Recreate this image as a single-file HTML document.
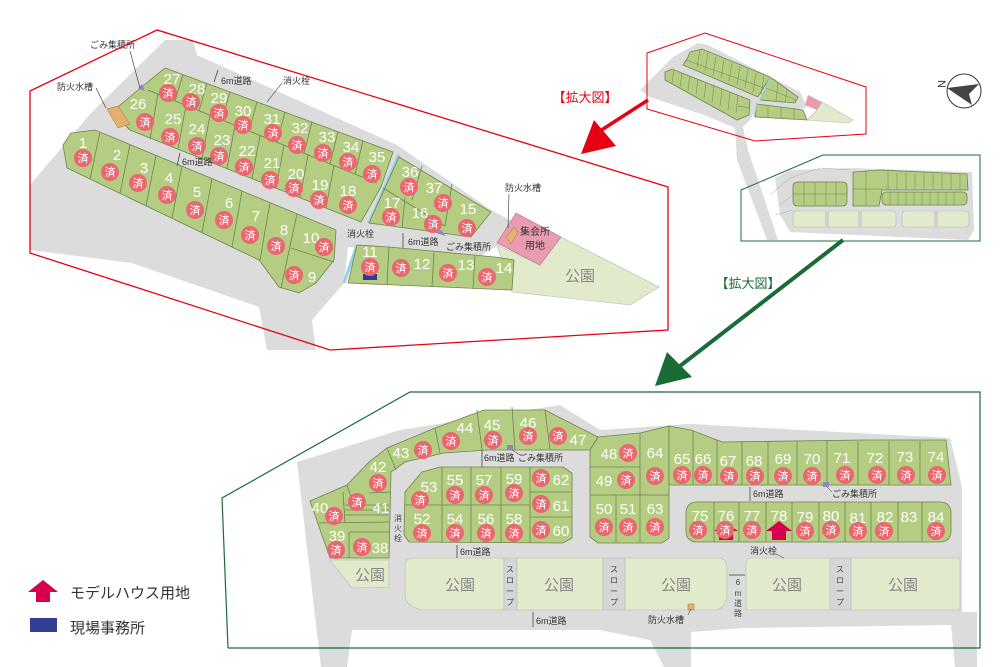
<!DOCTYPE html>
<html><head><meta charset="utf-8"><style>
html,body{margin:0;padding:0;background:#fff;}
svg{display:block;font-family:"Liberation Sans","Noto Sans CJK JP",sans-serif;}
.lot{fill:#b5cd82;stroke:#6e8350;stroke-width:0.8;}
.dv{stroke:#6e8350;stroke-width:0.8;fill:none;}
.dv2{stroke:#6e8350;stroke-width:0.5;fill:none;}
.park{fill:#e1eacb;stroke:#b9b9b9;stroke-width:0.6;}
.rd{fill:#dcdcdc;}
.n{fill:#fff;font-size:15px;text-anchor:middle;}
.c{fill:#ea6770;}
.lb{font-size:9px;fill:#333;}
.pk{font-size:15px;fill:#888;text-anchor:middle;}
</style></head><body>
<svg width="1000" height="667" viewBox="0 0 1000 667" xmlns="http://www.w3.org/2000/svg">
<defs>
<g id="z"><circle class="c" r="9"/><text y="4" fill="#fff" font-size="11" text-anchor="middle">済</text></g>
</defs>

<!-- ===== TOP DETAIL MAP ===== -->
<polygon class="rd" points="30,185 91,113 165,40 193,40 197,55 397,145 491,210 516,223 495,247 479,257 348,247 344,283 312,320 316,350 267,350 259,307 132,263 30,250"/>
<polygon class="park" points="497,245 540,265 561,237 659,287 630,305 512,292"/>
<polygon fill="#e99cb0" stroke="#b07080" stroke-width="0.6" points="516,213 561,237 540,265 497,243"/>
<text x="535" y="235" font-size="10" fill="#333" text-anchor="middle">集会所</text>
<text x="535" y="249" font-size="10" fill="#333" text-anchor="middle">用地</text>
<text class="pk" x="580" y="281">公園</text>
<line x1="399" y1="155" x2="369" y2="223" stroke="#8fd3e6" stroke-width="3"/>
<line x1="357" y1="245" x2="344" y2="283" stroke="#8fd3e6" stroke-width="3"/>
<polygon class="lot" points="165,68 393,152 381,187 361,222 130,130 112,112 132,95"/>
<polyline class="dv" points="148,90 377,183"/>
<path class="dv" d="M183,74.6L175,101M207,83.5L199,110.7M230,92L222,120M257,101.9L249,131M285,112L277,142.4M312,122L304,153.3M338,131.7L330,163.9M363,140.9L355,174M158,94L150,138.8M186,105.4L178,149.1M210,115.2L202,158.7M235,125.3L227,168.6M260,135.5L252,178.6M284,145.2L276,188.1M308,155L300,197.7M334,165.5L326,207.7"/>
<polygon class="lot" points="71,133 95,130 336,230 334,260 316,283 299,293 279,287 259,260 67,168 63,145"/>
<path class="dv" d="M100,132L90,179M130,144.5L120,193.4M156,155.3L146,205.8M182,166L172,218.3M212,178.6L202,232.7M242,191L232,247M270,202.6L260,260M297,213.8L281,288M291,248L334,262"/>
<polygon class="lot" points="399,157 491,212 471,237 442,233 369,223"/>
<path class="dv" d="M383,188L445,226M422,166L412,200M452,184L445,226M405,197L402,228"/>
<polygon class="lot" points="357,245 389,247 495,257 514,260 512,290 348,283"/>
<path class="dv" d="M389,247L387,285M434,253L432,287M475,256L473,289"/>
<polygon fill="#e6b06c" stroke="#a07040" stroke-width="0.5" points="107,109 118,106 130,124 118,128"/>
<polygon fill="#e6b06c" stroke="#a07040" stroke-width="0.5" points="506,237 514,227 518,232 511,244"/>
<polygon fill="#8f86c9" points="138,89 142,84 145,91"/>
<polygon fill="#8f86c9" points="436,233 441,230 446,236"/>
<rect x="363" y="274" width="14" height="6" fill="#2e3d93"/>
<g>
<text class="n" x="172" y="84">27</text><text class="n" x="197" y="94">28</text><text class="n" x="219" y="103">29</text><text class="n" x="243" y="116">30</text><text class="n" x="272" y="124">31</text><text class="n" x="300" y="133">32</text><text class="n" x="327" y="142">33</text><text class="n" x="351" y="152">34</text><text class="n" x="377" y="162">35</text>
<text class="n" x="138" y="109">26</text><text class="n" x="173" y="124">25</text><text class="n" x="197" y="134">24</text><text class="n" x="222" y="145">23</text><text class="n" x="247" y="156">22</text><text class="n" x="272" y="168">21</text><text class="n" x="296" y="179">20</text><text class="n" x="320" y="190">19</text><text class="n" x="348" y="196">18</text>
<text class="n" x="83" y="148">1</text><text class="n" x="117" y="160">2</text><text class="n" x="144" y="173">3</text><text class="n" x="169" y="183">4</text><text class="n" x="197" y="197">5</text><text class="n" x="229" y="208">6</text><text class="n" x="256" y="221">7</text><text class="n" x="284" y="235">8</text><text class="n" x="311" y="243">10</text><text class="n" x="312" y="282">9</text>
<text class="n" x="410" y="177">36</text><text class="n" x="434" y="193">37</text><text class="n" x="468" y="214">15</text><text class="n" x="392" y="208">17</text><text class="n" x="420" y="218">16</text>
<text class="n" x="370" y="257">11</text><text class="n" x="422" y="269">12</text><text class="n" x="466" y="270">13</text><text class="n" x="504" y="273">14</text>
</g>
<g>
<use href="#z" x="168" y="93"/><use href="#z" x="191" y="102"/><use href="#z" x="219" y="113"/><use href="#z" x="243" y="125"/><use href="#z" x="273" y="133"/><use href="#z" x="297" y="145"/><use href="#z" x="323" y="153"/><use href="#z" x="348" y="162"/><use href="#z" x="372" y="174"/>
<use href="#z" x="145" y="122"/><use href="#z" x="170" y="137"/><use href="#z" x="197" y="146"/><use href="#z" x="219" y="156"/><use href="#z" x="244" y="167"/><use href="#z" x="270" y="180"/><use href="#z" x="294" y="188"/><use href="#z" x="319" y="200"/><use href="#z" x="348" y="205"/>
<use href="#z" x="83" y="158"/><use href="#z" x="110" y="172"/><use href="#z" x="138" y="183"/><use href="#z" x="167" y="195"/><use href="#z" x="195" y="210"/><use href="#z" x="224" y="220"/><use href="#z" x="250" y="235"/><use href="#z" x="276" y="246"/><use href="#z" x="324" y="247"/><use href="#z" x="294" y="275"/>
<use href="#z" x="409" y="187"/><use href="#z" x="443" y="203"/><use href="#z" x="467" y="228"/><use href="#z" x="391" y="217"/><use href="#z" x="433" y="224"/>
<use href="#z" x="370" y="267"/><use href="#z" x="401" y="268"/><use href="#z" x="448" y="273"/><use href="#z" x="487" y="277"/>
</g>
<text class="lb" x="90" y="48">ごみ集積所</text><line x1="130" y1="51" x2="140" y2="88" stroke="#333" stroke-width="0.6"/>
<text class="lb" x="57" y="90">防火水槽</text><line x1="96" y1="88" x2="106" y2="108" stroke="#333" stroke-width="0.6"/>
<text class="lb" x="221" y="84" font-size="8">6m道路</text><line x1="218" y1="70" x2="214" y2="82" stroke="#333" stroke-width="0.7"/>
<text class="lb" x="283" y="84">消火栓</text><line x1="282" y1="83" x2="267" y2="102" stroke="#333" stroke-width="0.6"/>
<text class="lb" x="182" y="165" font-size="8">6m道路</text><line x1="180" y1="153" x2="177" y2="166" stroke="#333" stroke-width="0.7"/>
<text class="lb" x="347" y="237">消火栓</text>
<text class="lb" x="408" y="245" font-size="8">6m道路</text><line x1="403" y1="233" x2="403" y2="248" stroke="#333" stroke-width="0.7"/>
<text class="lb" x="446" y="250" font-size="8">ごみ集積所</text>
<text class="lb" x="505" y="191">防火水槽</text><line x1="509" y1="194" x2="508" y2="228" stroke="#333" stroke-width="0.6"/>
<polygon points="30,91 157,30 668,187 668,330 330,350 30,253" fill="none" stroke="#e60012" stroke-width="1.3"/>
<text x="585" y="102" font-size="13" fill="#e60012" text-anchor="middle">【拡大図】</text>
<line x1="648" y1="100" x2="600" y2="131" stroke="#e60012" stroke-width="3.5"/>
<polygon points="581,154 594,120 616,146" fill="#e60012"/>

<!-- ===== OVERVIEW (top right) ===== -->
<polygon class="rd" points="640,90 673,57 698,43 708,45 800,92 807,107 797,110 760,105 750,120 743,127 748,150 778,240 767,240 737,160 735,128 707,116 650,97"/>
<polygon class="lot" points="665,72 672,69 750,100 749,115 737,120 665,80"/>
<path class="dv2" d="M674,70L672,83M682,73L680,87M690,76L688,90M698,79L696,94M706,82L704,98M714,86L712,102M722,89L720,106M730,92L728,110M738,95L736,113M738,106L750,108"/>
<polygon class="lot" points="690,52 702,49 770,77 758,97 683,65 688,57"/>
<path class="dv2" d="M686,60L764,88M700,50L697,67M708,53L705,71M716,57L713,75M724,60L721,78M732,63L729,81M740,66L737,85M748,69L745,88M756,73L753,92M764,76L761,95"/>
<polygon class="lot" points="770,77 798,97 795,103 760,100"/>
<path class="dv2" d="M766,88L796,100M778,82L776,101M787,89L785,102"/>
<polygon class="lot" points="757,104 803,110 807,120 755,117"/>
<path class="dv2" d="M768,105L768,118M781,107L781,119M794,108L794,120"/>
<line x1="770" y1="77" x2="760" y2="100" stroke="#8fd3e6" stroke-width="1"/>
<line x1="757" y1="104" x2="754" y2="117" stroke="#8fd3e6" stroke-width="1"/>
<polygon fill="#e99cb0" points="808,95 822,102 817,110 805,105"/>
<polygon class="park" points="817,110 822,102 853,120 848,123 807,120"/>
<polygon points="647,53 705,33 866,87 866,134 755,141 647,109" fill="none" stroke="#e60012" stroke-width="1"/>
<!-- overview 2 -->
<polygon class="rd" points="775,178 790,170 850,168 972,172 974,230 968,240 790,232 780,215"/>
<path d="M770,195L790,178L820,168L850,170M780,205L793,195M775,215L793,210" stroke="#aaa" stroke-width="0.5" fill="none"/>
<rect x="793" y="182" width="54" height="24" rx="4" class="lot"/>
<path class="dv2" d="M804,182L804,206M815,182L815,206M826,182L826,206M836,182L836,206M793,194L847,194"/>
<polygon class="lot" points="853,172 880,170 967,174 968,190 882,190 879,206 853,206"/>
<path class="dv2" d="M866,171L866,206M853,189L882,189M888,172L888,190M897,173L897,190M906,173L906,190M915,174L915,190M924,174L924,190M933,174L933,190M942,174L942,190M951,174L951,190M960,174L960,190"/>
<rect x="882" y="192" width="85" height="13" rx="4" class="lot"/>
<path class="dv2" d="M890,192L890,205M898,192L898,205M906,192L906,205M914,192L914,205M922,192L922,205M930,192L930,205M938,192L938,205M946,192L946,205M954,192L954,205"/>
<rect x="793" y="211" width="103" height="16" rx="3" class="park"/>
<rect x="902" y="211" width="67" height="16" rx="3" class="park"/>
<rect x="825" y="211" width="4" height="16" fill="#d0d0d0"/>
<rect x="858" y="211" width="4" height="16" fill="#d0d0d0"/>
<rect x="934" y="211" width="4" height="16" fill="#d0d0d0"/>
<polygon points="741,190 823,155 980,155 980,241 741,241" fill="none" stroke="#1a6b36" stroke-width="1"/>
<circle cx="964" cy="91" r="17" fill="#fff" stroke="#333" stroke-width="1"/>
<polygon points="947,88 979,84 969,94 972,105" fill="#444"/>
<text x="938" y="84" font-size="11" fill="#333" transform="rotate(90 938 84)" text-anchor="middle">N</text>

<text x="748" y="288" font-size="13" fill="#1a6b36" text-anchor="middle">【拡大図】</text>
<line x1="843" y1="240" x2="680" y2="366" stroke="#1a6b36" stroke-width="4"/>
<polygon points="655,386 667,352 692,377" fill="#1a6b36"/>

<!-- ===== BOTTOM DETAIL MAP ===== -->
<polygon class="rd" points="297,462 400,430 560,405 600,430 690,424 950,438 962,487 962,560 962,612 977,612 977,667 955,667 951,625 744,628 691,632 691,667 664,667 650,640 600,630 352,630 347,667 321,667"/>
<polygon class="lot" points="310,501 347,485 369,462 387,448 435,428 484,410 545,410 598,437 590,450 488,450 444,453 405,462 391,472 389,558 330,558"/>
<path class="dv" d="M435,428L440,453M477,410L482,450M512,407L515,450M545,410L550,450M387,448L396,470M347,485L352,500M369,493L391,492M343,492L345,523M319,523L389,522M349,532L349,558M349,532L389,532M345,505L389,505M345,510L389,510M345,515L389,515"/>
<polygon class="park" points="330,560 389,560 389,587 352,588"/>
<text class="pk" x="370" y="580">公園</text>
<polygon class="lot" points="405,492 422,472 440,467 563,467 572,473 572,538 563,543 409,542 404,535"/>
<path class="dv" d="M442,467L442,543M471,467L471,543M501,467L501,543M530,467L530,543M405,505L530,505M530,492L572,492M530,517L572,517"/>
<polygon class="lot" points="598,437 640,433 669,426 669,538 662,543 598,543 590,537 590,450"/>
<path class="dv" d="M640,433L640,543M590,467L640,467M590,495L669,495M616,495L616,543"/>
<polygon class="lot" points="669,426 691,430 722,442 863,440 946,440 951,485 669,485"/>
<path class="dv" d="M693,431L693,485M717,440L717,485M742,441L742,485M768,441L768,485M797,441L797,485M827,441L827,485M858,441L858,485M889,441L889,485M920,441L920,485"/>
<rect x="686" y="502" width="265" height="40" rx="10" class="lot"/>
<path class="dv" d="M714,502L714,542M739,502L739,542M766,502L766,542M792,502L792,542M819,502L819,542M845,502L845,542M871,502L871,542M898,502L898,542M922,502L922,542"/>
<path class="park" d="M413,558 L504,558 L504,610 L422,610 Q405,606 405,595 L405,566 Q405,558 413,558Z"/>
<rect x="504" y="558" width="13" height="52" fill="#d6d6d6" stroke="#b9b9b9" stroke-width="0.6"/>
<rect x="517" y="558" width="86" height="52" class="park"/>
<rect x="603" y="558" width="22" height="52" fill="#d6d6d6" stroke="#b9b9b9" stroke-width="0.6"/>
<path class="park" d="M625,558 L720,558 Q727,560 727,568 L727,598 Q723,610 715,610 L625,610Z"/>
<path class="park" d="M752,558 L830,558 L830,610 L746,610 L746,564 Q746,558 752,558Z"/>
<rect x="830" y="558" width="21" height="52" fill="#d6d6d6" stroke="#b9b9b9" stroke-width="0.6"/>
<rect x="851" y="558" width="109" height="52" class="park"/>
<text class="pk" x="460" y="590">公園</text><text class="pk" x="559" y="590">公園</text><text class="pk" x="676" y="590">公園</text><text class="pk" x="787" y="590">公園</text><text class="pk" x="903" y="590">公園</text>
<g font-size="8" fill="#444" text-anchor="middle">
<text x="510" y="572">ス</text><text x="510" y="583">ロ</text><text x="510" y="594">ー</text><text x="510" y="605">プ</text>
<text x="614" y="572">ス</text><text x="614" y="583">ロ</text><text x="614" y="594">ー</text><text x="614" y="605">プ</text>
<text x="840" y="572">ス</text><text x="840" y="583">ロ</text><text x="840" y="594">ー</text><text x="840" y="605">プ</text>
<text x="738" y="585">6</text><text x="738" y="596">m</text><text x="738" y="606">道</text><text x="738" y="616">路</text>
<text x="398" y="521">消</text><text x="398" y="531">火</text><text x="398" y="541">栓</text>
</g>
<rect x="507" y="445" width="6" height="5" fill="#8f86c9"/>
<rect x="823" y="482" width="6" height="5" fill="#8f86c9"/>
<rect x="688" y="604" width="6" height="6" fill="#e6b06c" stroke="#a07040" stroke-width="0.5"/>
<text class="lb" x="484" y="461" font-size="8">6m道路</text><line x1="482" y1="450" x2="482" y2="467" stroke="#333" stroke-width="0.7"/>
<text class="lb" x="518" y="461">ごみ集積所</text><line x1="512" y1="450" x2="520" y2="455" stroke="#333" stroke-width="0.5"/>
<text class="lb" x="460" y="555" font-size="8">6m道路</text><line x1="457" y1="545" x2="457" y2="558" stroke="#333" stroke-width="0.7"/>
<text class="lb" x="753" y="497" font-size="8">6m道路</text><line x1="750" y1="487" x2="750" y2="501" stroke="#333" stroke-width="0.7"/>
<text class="lb" x="832" y="497">ごみ集積所</text><line x1="827" y1="487" x2="832" y2="492" stroke="#333" stroke-width="0.5"/>
<text class="lb" x="750" y="554">消火栓</text><line x1="776" y1="554" x2="784" y2="558" stroke="#333" stroke-width="0.5"/>
<text class="lb" x="536" y="624" font-size="8">6m道路</text><line x1="533" y1="612" x2="533" y2="627" stroke="#333" stroke-width="0.7"/>
<text class="lb" x="648" y="623">防火水槽</text><line x1="688" y1="615" x2="691" y2="609" stroke="#333" stroke-width="0.5"/>
<line x1="729" y1="575" x2="745" y2="575" stroke="#333" stroke-width="0.7"/>
<g>
<text class="n" x="320" y="513">40</text><text class="n" x="337" y="541">39</text><text class="n" x="380" y="553">38</text><text class="n" x="381" y="513">41</text><text class="n" x="378" y="472">42</text><text class="n" x="401" y="458">43</text><text class="n" x="465" y="433">44</text><text class="n" x="492" y="430">45</text><text class="n" x="528" y="428">46</text><text class="n" x="578" y="445">47</text>
<text class="n" x="429" y="492">53</text><text class="n" x="455" y="485">55</text><text class="n" x="484" y="485">57</text><text class="n" x="514" y="484">59</text><text class="n" x="561" y="485">62</text><text class="n" x="561" y="511">61</text><text class="n" x="561" y="536">60</text>
<text class="n" x="422" y="524">52</text><text class="n" x="455" y="524">54</text><text class="n" x="486" y="524">56</text><text class="n" x="514" y="524">58</text>
<text class="n" x="609" y="459">48</text><text class="n" x="604" y="486">49</text><text class="n" x="655" y="458">64</text><text class="n" x="604" y="514">50</text><text class="n" x="628" y="514">51</text><text class="n" x="655" y="514">63</text>
<text class="n" x="682" y="464">65</text><text class="n" x="703" y="464">66</text><text class="n" x="728" y="466">67</text><text class="n" x="754" y="466">68</text><text class="n" x="783" y="464">69</text><text class="n" x="812" y="464">70</text><text class="n" x="842" y="463">71</text><text class="n" x="875" y="463">72</text><text class="n" x="905" y="462">73</text><text class="n" x="936" y="462">74</text>
<text class="n" x="700" y="521">75</text><text class="n" x="726" y="521">76</text><text class="n" x="752" y="521">77</text><text class="n" x="779" y="521">78</text><text class="n" x="805" y="522">79</text><text class="n" x="831" y="521">80</text><text class="n" x="858" y="523">81</text><text class="n" x="885" y="522">82</text><text class="n" x="909" y="522">83</text><text class="n" x="936" y="522">84</text>
</g>
<polygon points="726,523 738,531 733,531 733,540 719,540 719,531 714,531" fill="#d6004f"/>
<polygon points="779,521 792,531 786,531 786,540 772,540 772,531 766,531" fill="#d6004f"/>
<g>
<use href="#z" x="334" y="516"/><use href="#z" x="336" y="550"/><use href="#z" x="362" y="547"/><use href="#z" x="357" y="502"/><use href="#z" x="378" y="483"/><use href="#z" x="423" y="450"/><use href="#z" x="451" y="441"/><use href="#z" x="493" y="440"/><use href="#z" x="528" y="436"/><use href="#z" x="558" y="436"/>
<use href="#z" x="420" y="500"/><use href="#z" x="455" y="495"/><use href="#z" x="484" y="495"/><use href="#z" x="514" y="493"/><use href="#z" x="541" y="478"/><use href="#z" x="541" y="504"/><use href="#z" x="541" y="530"/>
<use href="#z" x="422" y="533"/><use href="#z" x="455" y="533"/><use href="#z" x="486" y="533"/><use href="#z" x="514" y="533"/>
<use href="#z" x="628" y="453"/><use href="#z" x="626" y="480"/><use href="#z" x="655" y="476"/><use href="#z" x="604" y="527"/><use href="#z" x="628" y="527"/><use href="#z" x="655" y="527"/>
<use href="#z" x="682" y="475"/><use href="#z" x="703" y="475"/><use href="#z" x="729" y="476"/><use href="#z" x="755" y="476"/><use href="#z" x="783" y="476"/><use href="#z" x="812" y="476"/><use href="#z" x="845" y="475"/><use href="#z" x="877" y="475"/><use href="#z" x="906" y="475"/><use href="#z" x="937" y="475"/>
<use href="#z" x="698" y="530"/><use href="#z" x="725" y="530"/><use href="#z" x="752" y="530"/><use href="#z" x="805" y="531"/><use href="#z" x="831" y="530"/><use href="#z" x="858" y="531"/><use href="#z" x="884" y="531"/><use href="#z" x="936" y="531"/>
</g>
<polyline points="228,648 222,498 410,392 980,392 980,648 228,648" fill="none" stroke="#1a6b36" stroke-width="1.2"/>

<polygon points="43,580 58,592 50,592 50,602 36,602 36,592 28,592" fill="#d6004f"/>
<text x="70" y="598" font-size="15" fill="#333">モデルハウス用地</text>
<rect x="30" y="618" width="27" height="14" fill="#323f94"/>
<text x="70" y="633" font-size="15" fill="#333">現場事務所</text>
</svg>
</body></html>
